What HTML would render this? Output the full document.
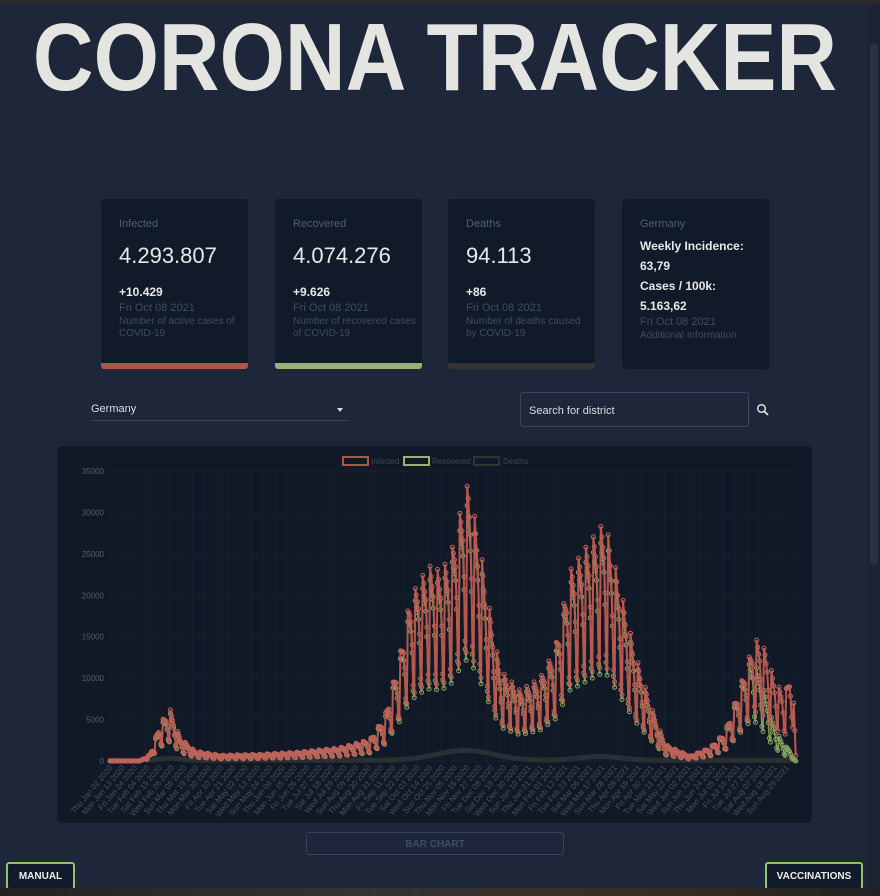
<!DOCTYPE html>
<html><head><meta charset="utf-8"><style>
html,body{margin:0;padding:0;width:880px;height:896px;overflow:hidden;background:#1e2639;font-family:"Liberation Sans",sans-serif;}
.top{position:absolute;left:0;top:0;width:880px;height:4px;background:#2a2a2a}
.sb{position:absolute;right:0;top:4px;width:12px;height:884px;background:#1c2433}
.sb div{position:absolute;left:2px;top:40px;width:8px;height:520px;background:#2a3346;border-radius:4px}
h1{position:absolute;left:435px;top:8px;margin:0;white-space:nowrap;font-size:96px;font-weight:bold;color:#e4e4e0;line-height:100px;transform:translateX(-50%) scaleX(0.875);transform-origin:50% 50%}
.card{position:absolute;top:199px;width:147px;height:170px;background:#111a28;border-radius:3px;overflow:hidden}
.card .t{position:absolute;left:18px;top:19px;font-size:11px;color:#4e5e76}
.card .n{position:absolute;left:18px;top:44px;font-size:22px;color:#e8e8e8}
.card .d{position:absolute;left:18px;top:86px;font-size:12px;font-weight:bold;color:#e8e8e8}
.card .s{position:absolute;left:18px;top:103px;font-size:10px;color:#3e4c62;line-height:12px}
.card .s b{font-weight:normal;font-size:11px;display:block;margin-bottom:2px}
.card .bar{position:absolute;left:0;bottom:0;width:100%;height:6px}
.sel{position:absolute;left:91px;top:403px;width:258px;height:17px;border-bottom:1px solid #3a4458;font-size:11px;color:#ddd}
.sel:after{content:"";position:absolute;right:6px;top:5px;border:3.5px solid transparent;border-top:4px solid #ddd}
.search{position:absolute;left:520px;top:392px;width:229px;height:35px;border:1px solid #3c4660;border-radius:3px;box-sizing:border-box;font-size:11px;color:#ddd;padding:12px 8px}
.chart{position:absolute;left:57px;top:446px;width:755px;height:377px;background:#111927;border-radius:5px}
.btn{position:absolute;border-radius:3px;font-size:10px;font-weight:bold;text-align:center;box-sizing:border-box}
.bottom{position:absolute;left:0;top:888px;width:880px;height:8px;background:linear-gradient(90deg,#222 0,#333 40%,#3a2e22 70%,#222 100%)}
</style></head><body>
<div class="top"></div>
<div class="sb"><div></div></div>
<h1>CORONA TRACKER</h1>
<div class="card" style="left:101px"><div class="t">Infected</div><div class="n">4.293.807</div><div class="d">+10.429</div><div class="s"><b>Fri Oct 08 2021</b>Number of active cases of<br>COVID-19</div><div class="bar" style="background:#b0544e"></div></div>
<div class="card" style="left:275px"><div class="t">Recovered</div><div class="n">4.074.276</div><div class="d">+9.626</div><div class="s"><b>Fri Oct 08 2021</b>Number of recovered cases<br>of COVID-19</div><div class="bar" style="background:#97b56a"></div></div>
<div class="card" style="left:448px"><div class="t">Deaths</div><div class="n">94.113</div><div class="d">+86</div><div class="s"><b>Fri Oct 08 2021</b>Number of deaths caused<br>by COVID-19</div><div class="bar" style="background:#333"></div></div>
<div class="card" style="left:622px"><div class="t">Germany</div>
<div style="position:absolute;left:18px;top:37px;font-size:12px;font-weight:bold;color:#e8e8e8;line-height:20px">Weekly Incidence:<br>63,79<br>Cases / 100k:<br>5.163,62</div>
<div class="s" style="top:117px"><b>Fri Oct 08 2021</b>Additional Information</div></div>
<div class="sel">Germany</div>
<div class="search">Search for district</div>
<svg style="position:absolute;left:756px;top:403px" width="14" height="14"><circle cx="5.5" cy="5.5" r="3.8" fill="none" stroke="#ddd" stroke-width="1.5"/><line x1="8.3" y1="8.3" x2="12" y2="12" stroke="#ddd" stroke-width="1.8"/></svg>
<div class="chart"></div>
<svg id="c" style="position:absolute;left:0;top:0" width="880" height="896"></svg>
<div class="btn" style="left:306px;top:832px;width:258px;height:23px;border:1px solid #36435c;color:#3e4c66;padding-top:6px">BAR CHART</div>
<div class="btn" style="left:6px;top:862px;width:69px;height:28px;border:2px solid #8fc46a;color:#eee;padding-top:7px;background:#111a28">MANUAL</div>
<div class="btn" style="left:765px;top:862px;width:98px;height:28px;border:2px solid #8fc46a;color:#eee;padding-top:7px;background:#111a28">VACCINATIONS</div>
<div class="bottom"></div>
<script>
var s=document.getElementById('c'),h='';
var X0=110,X1=796,Y0=761,k=290/35000;
for(var x=X0;x<=X1;x+=11.8)h+='<line x1="'+x+'" y1="471" x2="'+x+'" y2="761" stroke="#161f2d" stroke-width="1"/>';
for(var i=0;i<=7;i++){var y=Y0-i*5000*k;h+='<line x1="'+X0+'" y1="'+y+'" x2="'+X1+'" y2="'+y+'" stroke="#161f2d"/><text x="104" y="'+(y+3)+'" font-size="8" fill="#555d6a" text-anchor="end">'+(i*5000)+'</text>';}
h+='<rect x="343" y="457" width="25" height="8" fill="none" stroke="#b0544e" stroke-width="2"/><text x="371" y="464" font-size="8" fill="#3e4656">Infected</text>';
h+='<rect x="404" y="457" width="25" height="8" fill="none" stroke="#97b56a" stroke-width="2"/><text x="432" y="464" font-size="8" fill="#3e4656">Recovered</text>';
h+='<rect x="474" y="457" width="25" height="8" fill="none" stroke="#333" stroke-width="2"/><text x="503" y="464" font-size="8" fill="#3e4656">Deaths</text>';
var env=[[110,0],[140,0],[150,800],[160,4500],[170,6300],[180,2800],[195,1200],[220,700],[260,800],[300,1100],[340,1600],[370,2600],[385,5500],[400,13000],[410,19500],[420,22000],[430,23500],[440,23000],[450,24500],[460,30000],[468,33500],[478,27500],[490,18000],[500,11000],[520,8500],[540,10000],[555,13500],[570,23000],[590,26500],[605,29000],[620,21000],[635,13000],[650,7000],[665,2000],[690,600],[710,1600],[725,3500],[740,9000],[755,14800],[765,13500],[775,9500],[785,8000],[792,12000],[796,200]];
function E(x){for(var i=1;i<env.length;i++)if(x<=env[i][0]){var a=env[i-1],b=env[i];return a[1]+(b[1]-a[1])*(x-a[0])/(b[0]-a[0]);}return 0;}
var pts=[],rp=[],dp=[];
for(var x=X0;x<=X1;x+=1.06){var d=Math.round((x-X0)/1.06)%7;var f=[0.4,1,0.95,0.9,0.85,0.7,0.45][d];var v=E(x)*f;pts.push([x,Y0-v*k]);
var r=x>750?v*(1-(x-750)/46)*0.9:v*0.93;rp.push([x,Y0-r*k]);
var dv=Math.exp(-Math.pow((x-465)/40,2))*1200+Math.exp(-Math.pow((x-170)/15,2))*250+Math.exp(-Math.pow((x-600)/30,2))*450+80;dp.push([x,Y0-dv*k]);}
function pl(p,c,w){return '<polyline fill="none" stroke="'+c+'" stroke-width="'+w+'" points="'+p.map(function(a){return a[0].toFixed(1)+','+a[1].toFixed(1)}).join(' ')+'"/>';}
function dots(p,c){var o='';p.forEach(function(a){o+='<circle cx="'+a[0].toFixed(1)+'" cy="'+a[1].toFixed(1)+'" r="2" fill="none" stroke="'+c+'" stroke-width="1"/>';});return o;}
h+=pl(dp,'#2c2f33',1.5)+dots(dp,'#2c2f33');
h+=pl(rp,'#7d9a58',1.5)+dots(rp,'#8aa862');
h+=pl(pts,'#b8574e',2)+dots(pts,'#c0625a');
var m=['Jan','Feb','Mar','Apr','May','Jun','Jul','Aug','Sep','Oct','Nov','Dec'],dn=['Sun','Mon','Tue','Wed','Thu','Fri','Sat'];
var t=new Date(2020,0,2);
for(var x=X0;x<=X1+1;x+=12.3){var dd=('0'+t.getDate()).slice(-2);var lab=dn[t.getDay()]+' '+m[t.getMonth()]+' '+dd+' '+t.getFullYear();
h+='<text transform="translate('+(x+3)+',768) rotate(-50)" font-size="8" fill="#4a525e" text-anchor="end">'+lab+'</text>';t.setDate(t.getDate()+11);}
s.innerHTML=h;
</script>
</body></html>
